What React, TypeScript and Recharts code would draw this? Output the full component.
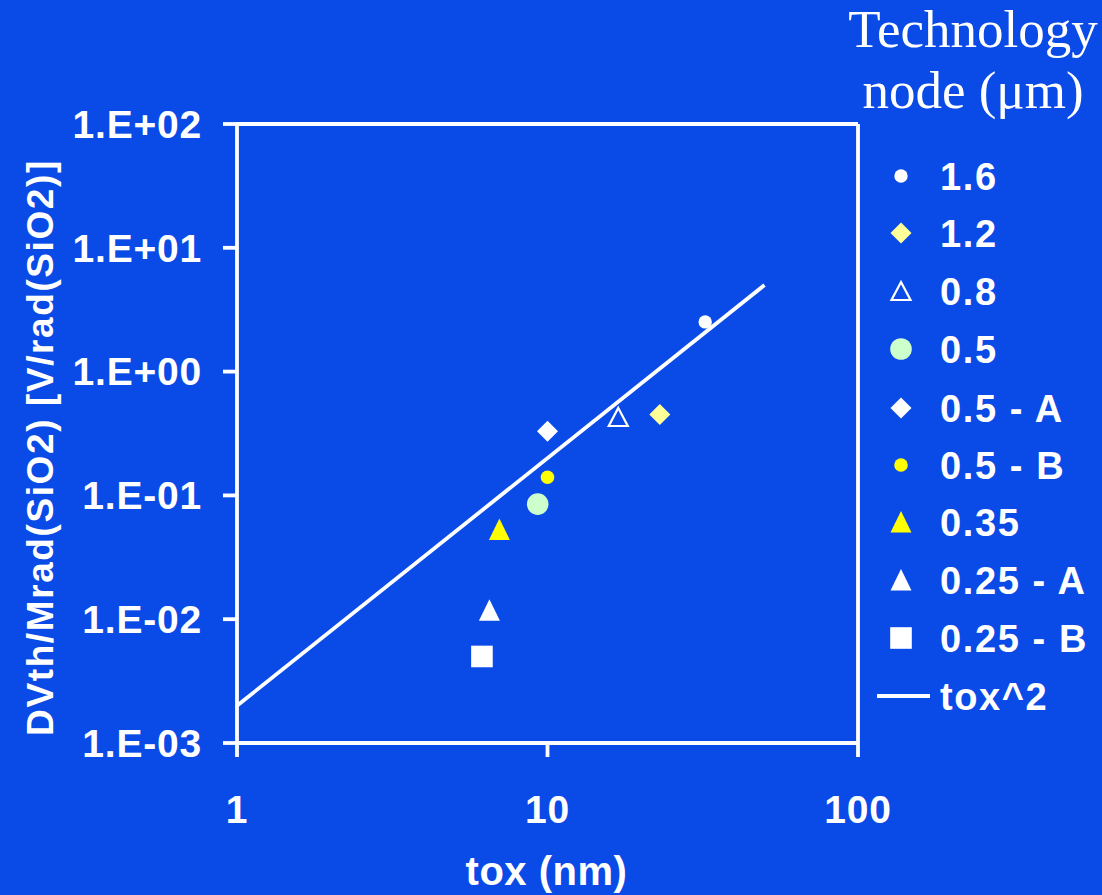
import React from 'react';
import { ScatterChart, Scatter, XAxis, YAxis, ReferenceLine, Label } from 'recharts';

// ---- data ----
const node16 = [{ x: 32.2, y: 2.52 }];
const node12 = [{ x: 23.0, y: 0.45 }];
const node08 = [{ x: 16.9, y: 0.43 }];
const node05 = [{ x: 9.3, y: 0.085 }];
const node05A = [{ x: 10.0, y: 0.33 }];
const node05B = [{ x: 10.0, y: 0.14 }];
const node035 = [{ x: 7.0, y: 0.053 }];
const node025A = [{ x: 6.5, y: 0.0118 }];
const node025B = [{ x: 6.15, y: 0.005 }];
const fitLine = [{ x: 1, y: 0.002 }, { x: 50, y: 5 }];

const xTicks = [1, 10, 100];
const xTickLabels = ['1', '10', '100'];
const yTicks = [0.001, 0.01, 0.1, 1, 10, 100];
const yTickLabels = ['1.E-03', '1.E-02', '1.E-01', '1.E+00', '1.E+01', '1.E+02'];

const seriesNames = ['1.6', '1.2', '0.8', '0.5', '0.5 - A', '0.5 - B', '0.35', '0.25 - A', '0.25 - B', 'tox^2'];

// ---- styling ----
const BG = '#0a4ae6';
const WHITE = '#ffffff';
const SANS = '"Liberation Sans", Arial, sans-serif';
const SERIF = '"Liberation Serif", "Times New Roman", serif';
const LW = 3.8;

type MK = 'dot' | 'diamondY' | 'triHollow' | 'circleG' | 'diamondW' | 'dotY' | 'triY' | 'triW' | 'square' | 'line';
const markerKinds: MK[] = ['dot', 'diamondY', 'triHollow', 'circleG', 'diamondW', 'dotY', 'triY', 'triW', 'square', 'line'];

function drawMarker(kind: MK, cx: number, cy: number) {
  switch (kind) {
    case 'dot':
      return <circle cx={cx} cy={cy} r={6.7} fill={WHITE} />;
    case 'dotY':
      return <circle cx={cx} cy={cy} r={6.8} fill="#ffff00" />;
    case 'circleG':
      return <circle cx={cx} cy={cy} r={10.8} fill="#ccffcc" />;
    case 'diamondY':
      return <polygon points={`${cx},${cy - 10.5} ${cx + 10.5},${cy} ${cx},${cy + 10.5} ${cx - 10.5},${cy}`} fill="#ffff99" />;
    case 'diamondW':
      return <polygon points={`${cx},${cy - 10.5} ${cx + 10.5},${cy} ${cx},${cy + 10.5} ${cx - 10.5},${cy}`} fill={WHITE} />;
    case 'triHollow':
      return <polygon points={`${cx},${cy - 9} ${cx + 9.5},${cy + 9} ${cx - 9.5},${cy + 9}`} fill="none" stroke={WHITE} strokeWidth={2.2} />;
    case 'triY':
      return <polygon points={`${cx},${cy - 11} ${cx + 10.5},${cy + 10.5} ${cx - 10.5},${cy + 10.5}`} fill="#ffff00" />;
    case 'triW':
      return <polygon points={`${cx},${cy - 11} ${cx + 10.5},${cy + 10.5} ${cx - 10.5},${cy + 10.5}`} fill={WHITE} />;
    case 'square':
      return <rect x={cx - 10.8} y={cy - 10.8} width={21.6} height={21.6} fill={WHITE} />;
    case 'line':
      return <line x1={cx - 24} y1={cy} x2={cx + 29} y2={cy} stroke={WHITE} strokeWidth={LW} />;
  }
  return null;
}

const shapeFor = (kind: MK) => (props: any) => {
  const { cx, cy } = props;
  if (cx == null || cy == null) return <g />;
  return drawMarker(kind, cx, cy);
};

const pointSeries = [node16, node12, node08, node05, node05A, node05B, node035, node025A, node025B];

const XLabel = (props: any) => {
  const vb = props.viewBox || { x: 237, y: 743, width: 621, height: 60 };
  return (
    <text x={vb.x + vb.width / 2 - 1} y={vb.y + 142} textAnchor="middle" fill={WHITE}
      fontFamily={SANS} fontWeight="bold" fontSize={40} letterSpacing={0.5}>tox (nm)</text>
  );
};

const YLabel = (props: any) => {
  const vb = props.viewBox || { x: 0, y: 124, width: 237, height: 619 };
  const cx = 53;
  const cy = vb.y + vb.height / 2 + 14;
  return (
    <text x={cx} y={cy} transform={`rotate(-90 ${cx} ${cy})`} textAnchor="middle" fill={WHITE}
      fontFamily={SANS} fontWeight="bold" fontSize={37} letterSpacing={1.6}>DVth/Mrad(SiO2) [V/rad(SiO2)]</text>
  );
};

const legendRows = [176, 233, 291, 349, 408, 465, 522, 580, 638, 696];

function LegendOverlay() {
  return (
    <svg width={1102} height={895} style={{ position: 'absolute', left: 0, top: 0, pointerEvents: 'none' }}>
      <text x={973} y={47} textAnchor="middle" fill={WHITE} fontFamily={SERIF} fontSize={53}>Technology</text>
      <text x={973} y={108} textAnchor="middle" fill={WHITE} fontFamily={SERIF} fontSize={53}>node (μm)</text>
      {seriesNames.map((name, i) => (
        <g key={name}>
          {drawMarker(markerKinds[i], 901, legendRows[i])}
          <text x={940} y={legendRows[i] + 14} fill={WHITE} fontFamily={SANS} fontWeight="bold" fontSize={38} letterSpacing={1.6}>
            {name}
          </text>
        </g>
      ))}
    </svg>
  );
}

export default function App() {
  const tickStyle = { fill: WHITE, fontSize: 39, fontWeight: 'bold', fontFamily: SANS, letterSpacing: 0.8 };
  return (
    <div style={{ position: 'absolute', left: 0, top: 0, width: 1102, height: 895, background: BG, overflow: 'hidden' }}>
      <ScatterChart width={1102} height={895} margin={{ top: 124, right: 244, bottom: 92, left: 0 }}>
        <XAxis
          type="number"
          dataKey="x"
          scale="log"
          domain={[1, 100]}
          ticks={xTicks}
          allowDataOverflow
          height={60}
          tickFormatter={(v: number) => xTickLabels[xTicks.indexOf(v)] ?? String(v)}
          tick={tickStyle}
          tickSize={14}
          tickMargin={38}
          axisLine={{ stroke: WHITE, strokeWidth: LW }}
          tickLine={{ stroke: WHITE, strokeWidth: LW }}
        >
          <Label content={<XLabel />} />
        </XAxis>
        <YAxis
          type="number"
          dataKey="y"
          scale="log"
          domain={[0.001, 100]}
          ticks={yTicks}
          allowDataOverflow
          width={237}
          tickFormatter={(v: number) => yTickLabels[yTicks.indexOf(v)] ?? String(v)}
          tick={tickStyle}
          tickSize={14}
          tickMargin={21}
          axisLine={{ stroke: WHITE, strokeWidth: LW }}
          tickLine={{ stroke: WHITE, strokeWidth: LW }}
        >
          <Label content={<YLabel />} />
        </YAxis>
        <ReferenceLine y={100} stroke={WHITE} strokeWidth={LW} />
        <ReferenceLine x={100} stroke={WHITE} strokeWidth={LW} />
        <Scatter
          name="tox^2"
          data={fitLine}
          line={{ stroke: WHITE, strokeWidth: LW }}
          shape={() => <g />}
          isAnimationActive={false}
        />
        {pointSeries.map((d, i) => (
          <Scatter key={seriesNames[i]} name={seriesNames[i]} data={d} shape={shapeFor(markerKinds[i])} isAnimationActive={false} />
        ))}
      </ScatterChart>
      <LegendOverlay />
    </div>
  );
}
